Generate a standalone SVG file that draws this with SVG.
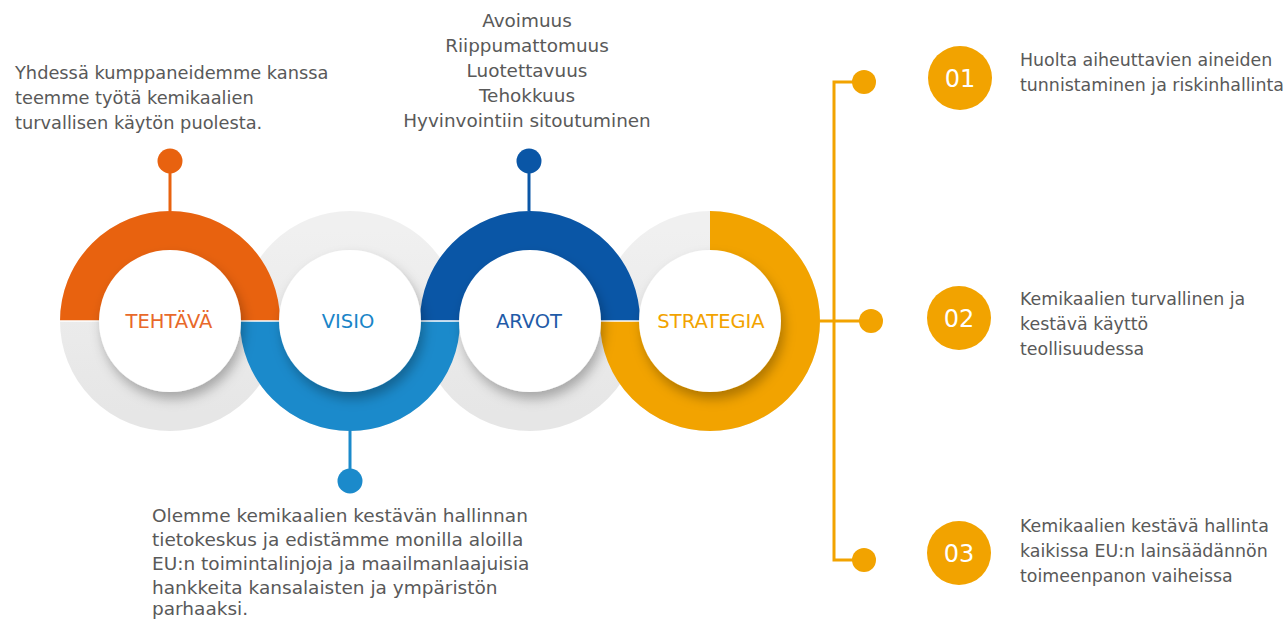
<svg xmlns="http://www.w3.org/2000/svg" width="1287" height="620" viewBox="0 0 1287 620">
<style>
.txt{font-family:"DejaVu Sans",Verdana,sans-serif;fill:#595959;font-size:17.4px}
.tl{font-size:17.8px}
.tc{font-size:18.4px;text-anchor:middle}
.bt{font-size:18.5px}
.lbl{font-family:"DejaVu Sans",Verdana,sans-serif;font-size:19.5px;text-anchor:middle}
.num{font-family:"DejaVu Sans",Verdana,sans-serif;font-size:24px;fill:#ffffff;text-anchor:middle}
.gray{fill:none;stroke:url(#gg);stroke-width:40}
.arc{fill:none;stroke-width:40}
.inner{fill:#ffffff;filter:url(#sh)}
.amb{stroke:#f2a300;stroke-width:3;fill:none}
</style>
<defs>
<linearGradient id="gg" x1="0" y1="0" x2="0" y2="1">
<stop offset="0" stop-color="#f0f0f0"/>
<stop offset="1" stop-color="#e6e6e6"/>
</linearGradient>
<filter id="sh" x="-30%" y="-30%" width="160%" height="160%">
<feDropShadow dx="3" dy="7" stdDeviation="6" flood-color="#000" flood-opacity="0.28"/>
</filter>
</defs>
<rect width="1287" height="620" fill="#ffffff"/>

<g id="rings">
<circle class="gray" cx="170" cy="321" r="90"/>
<circle class="gray" cx="350" cy="321" r="90"/>
<circle class="gray" cx="530" cy="321" r="90"/>
<circle class="gray" cx="710" cy="321" r="90"/>
<path class="arc" stroke="#e8620f" d="M80 321 A90 90 0 0 1 260 321"/>
<path class="arc" stroke="#1b8acb" d="M260 321 A90 90 0 0 0 440 321"/>
<path class="arc" stroke="#0a56a6" d="M440 321 A90 90 0 0 1 620 321"/>
<path class="arc" stroke="#f2a300" d="M710 231 A90 90 0 1 1 620 321"/>
<line x1="58" y1="321" x2="642" y2="321" stroke="#ffffff" stroke-width="1.5"/>
</g>

<g id="connectors">
<line x1="170" y1="211" x2="170" y2="161" stroke="#e8620f" stroke-width="3"/>
<circle cx="170" cy="161" r="12.5" fill="#e8620f"/>
<line x1="529" y1="211" x2="529" y2="161" stroke="#0a56a6" stroke-width="3"/>
<circle cx="529" cy="161" r="12.5" fill="#0a56a6"/>
<line x1="350" y1="431" x2="350" y2="481" stroke="#1b8acb" stroke-width="3"/>
<circle cx="350" cy="481" r="12.5" fill="#1b8acb"/>
<line class="amb" x1="820" y1="321" x2="870" y2="321"/>
<polyline class="amb" points="864,82 834,82 834,560 864,560"/>
<circle cx="864" cy="82" r="12" fill="#f2a300"/>
<circle cx="871" cy="321" r="12" fill="#f2a300"/>
<circle cx="864" cy="560" r="12" fill="#f2a300"/>
</g>

<g id="tehtava">
<circle class="inner" cx="170" cy="321" r="71"/>
<text class="lbl" x="169" y="328" fill="#e8692a">TEHTÄVÄ</text>
</g>
<g id="visio">
<circle class="inner" cx="350" cy="321" r="71"/>
<text class="lbl" x="348" y="328" fill="#1a85c8">VISIO</text>
</g>
<g id="arvot">
<circle class="inner" cx="530" cy="321" r="71"/>
<text class="lbl" x="529" y="328" fill="#1f5ba8">ARVOT</text>
</g>
<g id="strategia">
<circle class="inner" cx="710" cy="321" r="71"/>
<text class="lbl" x="711" y="328" fill="#f2a300">STRATEGIA</text>
</g>

<g id="tehtava-text">
<text class="txt tl" x="15" y="79">Yhdessä kumppaneidemme kanssa</text>
<text class="txt tl" x="15" y="104">teemme työtä kemikaalien</text>
<text class="txt tl" x="15" y="129">turvallisen käytön puolesta.</text>
</g>

<g id="arvot-text">
<text class="txt tc" x="527" y="27">Avoimuus</text>
<text class="txt tc" x="527" y="52">Riippumattomuus</text>
<text class="txt tc" x="527" y="77">Luotettavuus</text>
<text class="txt tc" x="527" y="102">Tehokkuus</text>
<text class="txt tc" x="527" y="127">Hyvinvointiin sitoutuminen</text>
</g>

<g id="visio-text">
<text class="txt bt" x="152" y="522">Olemme kemikaalien kestävän hallinnan</text>
<text class="txt bt" x="152" y="546">tietokeskus ja edistämme monilla aloilla</text>
<text class="txt bt" x="152" y="570">EU:n toimintalinjoja ja maailmanlaajuisia</text>
<text class="txt bt" x="152" y="594">hankkeita kansalaisten ja ympäristön</text>
<text class="txt bt" x="152" y="615">parhaaksi.</text>
</g>

<g id="item01">
<circle cx="960" cy="78" r="32" fill="#f2a300"/>
<text class="num" x="960" y="87">01</text>
<text class="txt" x="1020" y="66">Huolta aiheuttavien aineiden</text>
<text class="txt" x="1020" y="91">tunnistaminen ja riskinhallinta</text>
</g>
<g id="item02">
<circle cx="959" cy="318" r="32" fill="#f2a300"/>
<text class="num" x="959" y="327">02</text>
<text class="txt" x="1020" y="305">Kemikaalien turvallinen ja</text>
<text class="txt" x="1020" y="330">kestävä käyttö</text>
<text class="txt" x="1020" y="355">teollisuudessa</text>
</g>
<g id="item03">
<circle cx="959" cy="553" r="32" fill="#f2a300"/>
<text class="num" x="959" y="562">03</text>
<text class="txt" x="1020" y="532">Kemikaalien kestävä hallinta</text>
<text class="txt" x="1020" y="557">kaikissa EU:n lainsäädännön</text>
<text class="txt" x="1020" y="582">toimeenpanon vaiheissa</text>
</g>
</svg>
